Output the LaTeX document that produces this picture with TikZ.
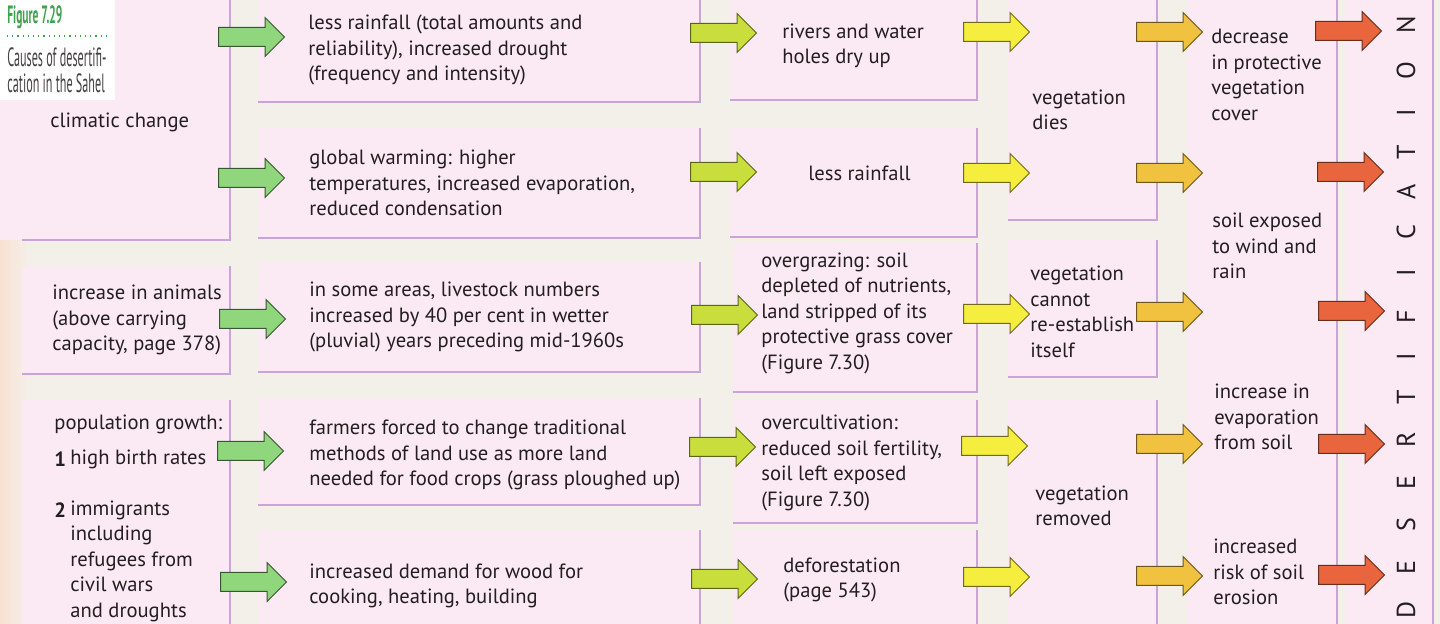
\documentclass[tikz,border=0pt]{standalone}
\usepackage{fontspec}
\setmainfont{PT Sans}
\newfontfamily\capfont[FakeStretch=0.46]{PT Sans}
\usetikzlibrary{shapes.arrows}

\definecolor{gapbg}{HTML}{F3F0EA}
\definecolor{panelbg}{HTML}{FBE9F3}
\definecolor{edgelilac}{HTML}{C9A3D9}
\definecolor{pageedge}{HTML}{F9E1D2}
\definecolor{ink}{HTML}{231F20}
\definecolor{figgreen}{HTML}{3FA34D}
\definecolor{arrgreen}{HTML}{8FD67C}
\definecolor{arrlime}{HTML}{C9DE3C}
\definecolor{arryellow}{HTML}{F5EE3E}
\definecolor{arramber}{HTML}{F0C240}
\definecolor{arrred}{HTML}{E9653E}

\tikzset{
  paneledge/.style={draw=edgelilac, line width=0.6pt},
  txt/.style={anchor=west, align=left, inner sep=0pt, text=ink, font=\fontsize{10.3}{12.75}\selectfont},
  captxt/.style={anchor=west, inner sep=0pt, text=ink!85, font=\capfont\fontsize{13.2}{13.2}\selectfont},
  barrow/.style={single arrow, single arrow head extend=5pt, single arrow tip angle=90,
    minimum height=33pt, inner xsep=0pt, inner ysep=4.5pt, anchor=tail, line width=0.5pt},
  greenarr/.style={barrow, fill=arrgreen, draw=arrgreen!40!black},
  limearr/.style={barrow, fill=arrlime, draw=arrlime!45!black},
  yellowarr/.style={barrow, fill=arryellow, draw=arryellow!45!black},
  amberarr/.style={barrow, fill=arramber, draw=arramber!45!black},
  redarr/.style={barrow, fill=arrred, draw=arrred!45!black},
  deslet/.style={rotate=90, inner sep=0pt, text=ink, font=\fontsize{13}{13}\selectfont}
}

\begin{document}
\begin{tikzpicture}[x=0.5pt, y=-0.5pt]
   \useasboundingbox (0,0) rectangle (1440,624);
   \fill[gapbg] (0,0) rectangle (1440,624);
   \shade[left color=pageedge, right color=gapbg] (0,0) rectangle (30,624);

   %panels
   \foreach \xa/\ya/\xb/\yb in {22/0/230/240, 22/266/230/374, 22/400/230/640,
       258/0/700/102, 258/128/700/238, 258/262/700/372, 258/398/700/505, 258/530/700/640,
       730/0/977/100, 730/128/977/237, 733/243/977/392, 733/400/977/523, 733/530/977/640,
       1008/0/1157/220, 1008/240/1157/377, 1008/400/1157/640,
       1187/0/1337/640, 1345/0/1433/640}{
     \fill[panelbg] (\xa,\ya) rectangle (\xb,\yb);
     \draw[paneledge] (\xa,\yb) -- (\xb,\yb) -- (\xb,\ya);
   }
   \fill[panelbg] (0,0) rectangle (22,240);

   %caption
   \fill[white] (0,0) rectangle (115,100);
   \node[anchor=west, inner sep=0pt, text=figgreen, font=\capfont\bfseries\fontsize{12.5}{12.5}\selectfont] (fignum) at (7,17) {Figure 7.29};
   \draw[figgreen, dotted, line width=0.6pt] (7,36) -- (110,36);
   \node[captxt] (figcap1) at (7,57) {Causes of desertifi-};
   \node[captxt] (figcap2) at (7,83) {cation in the Sahel};

   %causes
   \node[txt] (climate) at (50,122) {climatic change};
   \node[txt] (animals) at (52,320) {increase in animals\\(above carrying\\capacity, page 378)};
   \node[txt] (population) at (54,424) {population growth:};
   \node[txt] (num1) at (54,459) {\textbf{1}};
   \node[txt] (births) at (70,459) {high birth rates};
   \node[txt] (num2) at (54,510) {\textbf{2}};
   \node[txt] (immigrants) at (70,561) {immigrants\\including\\refugees from\\civil wars\\and droughts};

   %second column
   \node[txt] (rainfall) at (308,50) {less rainfall (total amounts and\\reliability), increased drought\\(frequency and intensity)};
   \node[txt] (warming) at (309,183) {global warming: higher\\temperatures, increased evaporation,\\reduced condensation};
   \node[txt] (livestock) at (309,317) {in some areas, livestock numbers\\increased by 40 per cent in wetter\\(pluvial) years preceding mid-1960s};
   \node[txt] (farmers) at (309,455) {farmers forced to change traditional\\methods of land use as more land\\needed for food crops (grass ploughed up)};
   \node[txt] (wood) at (309,586) {increased demand for wood for\\cooking, heating, building};

   %third column
   \node[txt] (dryup) at (782,46) {rivers and water\\holes dry up};
   \node[txt] (lessrain) at (808,173) {less rainfall};
   \node[txt] (overgrazing) at (761,313) {overgrazing: soil\\depleted of nutrients,\\land stripped of its\\protective grass cover\\(Figure 7.30)};
   \node[txt] (overcult) at (761,463) {overcultivation:\\reduced soil fertility,\\soil left exposed\\(Figure 7.30)};
   \node[txt] (deforest) at (783,580) {deforestation\\(page 543)};

   %fourth column
   \node[txt] (dies) at (1032,110) {vegetation\\dies};
   \node[txt] (noregrow) at (1030,312) {vegetation\\cannot\\re-establish\\itself};
   \node[txt] (removed) at (1035,506) {vegetation\\removed};

   %fifth column
   \node[txt] (cover) at (1211,75) {decrease\\in protective\\vegetation\\cover};
   \node[txt] (exposed) at (1212,246) {soil exposed\\to wind and\\rain};
   \node[txt] (evaporation) at (1214,417) {increase in\\evaporation\\from soil};
   \node[txt] (erosion) at (1213,572) {increased\\risk of soil\\erosion};

   %arrows
   \node[greenarr] (g1) at (218,37) {};
   \node[greenarr] (g2) at (218,178) {};
   \node[greenarr] (g3) at (219,319) {};
   \node[greenarr] (g4) at (217,451) {};
   \node[greenarr] (g5) at (220,582) {};

   \node[limearr] (l1) at (690,33) {};
   \node[limearr] (l2) at (690,172) {};
   \node[limearr] (l3) at (691,315) {};
   \node[limearr] (l4) at (689,447) {};
   \node[limearr] (l5) at (691,579) {};

   \node[yellowarr] (y1) at (963,32) {};
   \node[yellowarr] (y2) at (963,173) {};
   \node[yellowarr] (y3) at (963,314) {};
   \node[yellowarr] (y4) at (961,446) {};
   \node[yellowarr] (y5) at (963,577) {};

   \node[amberarr] (a1) at (1136,32) {};
   \node[amberarr] (a2) at (1136,173) {};
   \node[amberarr] (a3) at (1136,312) {};
   \node[amberarr] (a4) at (1136,444) {};
   \node[amberarr] (a5) at (1136,576) {};

   \node[redarr] (r1) at (1315,31) {};
   \node[redarr] (r2) at (1317,172) {};
   \node[redarr] (r3) at (1318,311) {};
   \node[redarr] (r4) at (1318,444) {};
   \node[redarr] (r5) at (1318,575) {};

   %desertification
   \foreach \ch/\yy [count=\i] in {D/610, E/568, S/525, E/483, R/440, T/397, I/357, F/317,
       I/273, C/232, A/192, T/152, I/113, O/71, N/25}{
     \node[deslet] (des\i) at (1406,\yy) {\ch};
   }
\end{tikzpicture}
\end{document}
